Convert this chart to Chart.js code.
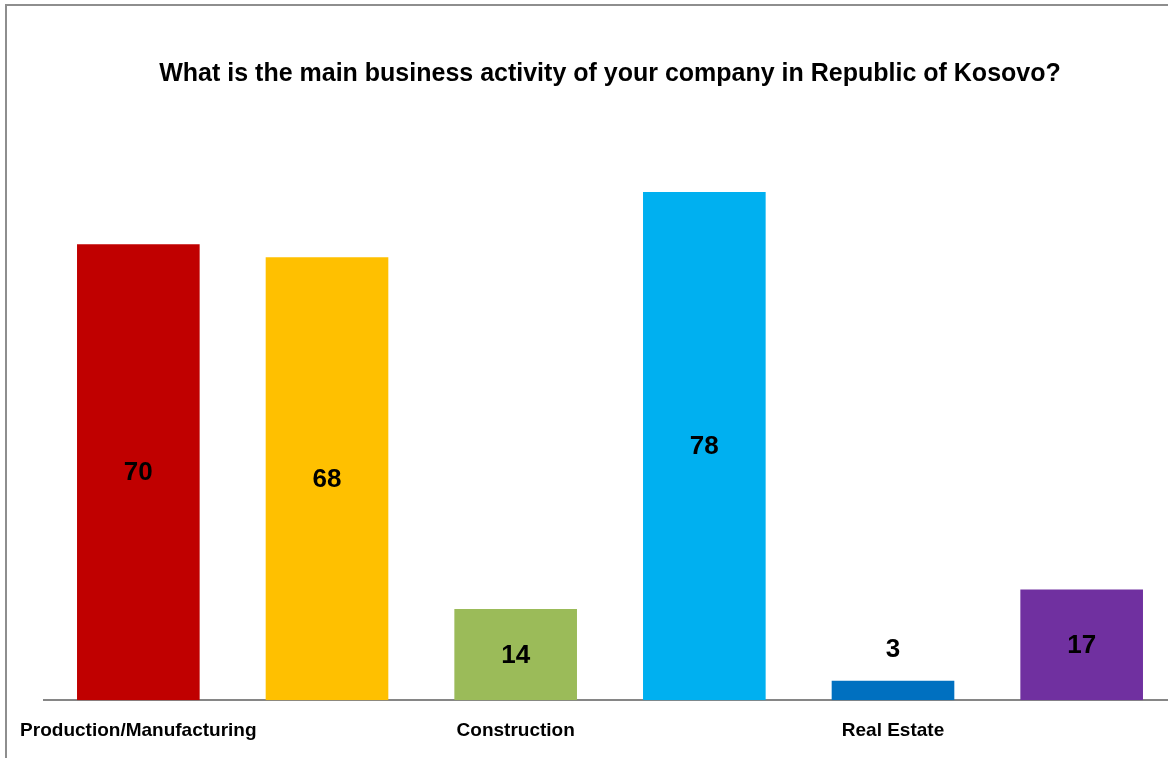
<!DOCTYPE html>
<html>
<head>
<meta charset="utf-8">
<script src="https://cdn.jsdelivr.net/npm/chart.js@4.4.1/dist/chart.umd.min.js"></script>
<style>
  html, body { margin: 0; padding: 0; background: #fff; overflow: hidden; }
  body { width: 1168px; height: 758px; position: relative; }
  #marco {
    position: absolute; left: 5px; top: 4px; width: 1300px; height: 800px;
    border-left: 2px solid #8e8e8e; border-top: 2px solid #8e8e8e;
    box-sizing: border-box;
  }
  #lienzo { position: absolute; left: 0; top: 0; width: 1244px; height: 758px; }
</style>
</head>
<body>
<div id="marco"></div>
<div id="lienzo"><canvas id="grafico1"></canvas></div>
<script>
// actividades (solo se rotulan una de cada dos en el eje)
const categorias = ["Production/Manufacturing", "", "Construction", "", "Real Estate", ""];
const valores = [70, 68, 14, 78, 3, 17];
const colores = ["#C00000", "#FFC000", "#9BBB59", "#00B0F0", "#0070C0", "#7030A0"];
const titulo = "What is the main business activity of your company in Republic of Kosovo?";

const fuente = "'Liberation Sans', Arial, Helvetica, sans-serif";

// escribe el valor dentro de cada barra, o encima si la barra es muy baja
const etiquetasValor = {
    id: 'etiquetasValor',
    afterDatasetsDraw(chart) {
        const ctx = chart.ctx;
        const meta = chart.getDatasetMeta(0);
        ctx.save();
        ctx.font = "bold 26px " + fuente;
        ctx.fillStyle = "#000";
        ctx.textAlign = "center";
        ctx.textBaseline = "middle";
        meta.data.forEach((barra, i) => {
            const alto = barra.base - barra.y;
            let y = (barra.y + barra.base) / 2;
            if (alto < 40) {
                y = barra.y - 32;
            }
            ctx.fillText(String(valores[i]), barra.x, y + 1);
        });
        ctx.restore();
    }
};

const ctx = document.getElementById('grafico1');
new Chart(ctx, {
    type: 'bar',
    data: {
        labels: categorias,
        datasets: [{
            data: valores,
            backgroundColor: colores,
            borderWidth: 0,
            categoryPercentage: 1,
            barPercentage: 0.65
        }]
    },
    options: {
        responsive: true,
        maintainAspectRatio: false,
        animation: false,
        layout: {
            padding: { left: 44, right: 68, top: 0, bottom: 5 }
        },
        plugins: {
            legend: { display: false },
            tooltip: { enabled: false },
            title: {
                display: true,
                text: titulo,
                color: "#000",
                font: { family: fuente, size: 25, weight: 'bold', lineHeight: 1.2 },
                padding: { top: 59, bottom: 90 }
            }
        },
        scales: {
            x: {
                grid: { display: false },
                border: { display: true, color: "#868686", width: 2 },
                ticks: {
                    autoSkip: false,
                    maxRotation: 0,
                    padding: 11,
                    color: "#000",
                    font: { family: fuente, size: 19, weight: 'bold' }
                }
            },
            y: {
                display: false,
                min: 0,
                max: 80
            }
        }
    },
    plugins: [etiquetasValor]
});
</script>
</body>
</html>
